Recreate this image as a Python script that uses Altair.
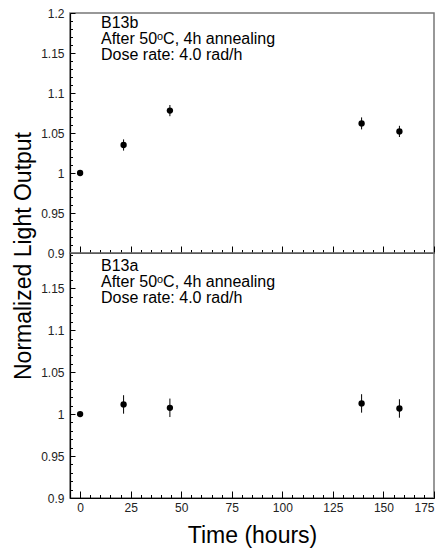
import altair as alt
import pandas as pd

# ---- data ----
hours = [0.0, 21.5, 44.4, 139.2, 157.9]
b13b_lo = [1.000, 1.035, 1.078, 1.062, 1.052]
b13b_err = [0.0, 0.007, 0.007, 0.0075, 0.007]
b13a_lo = [1.000, 1.0115, 1.0075, 1.0127, 1.0067]
b13a_err = [0.0, 0.011, 0.011, 0.011, 0.011]

label_top = "B13b\nAfter 50ᵒC, 4h annealing\nDose rate: 4.0 rad/h"
label_bot = "B13a\nAfter 50ᵒC, 4h annealing\nDose rate: 4.0 rad/h"

x_major = [0, 25, 50, 75, 100, 125, 150, 175]
x_minor = [v for v in range(0, 176, 5) if v % 25 != 0]
y_major_top = [0.9, 0.95, 1.0, 1.05, 1.1, 1.15, 1.2]
y_major_bot = [0.9, 0.95, 1.0, 1.05, 1.1, 1.15]
y_minor = [round(0.9 + 0.01 * i, 2) for i in range(31)]

FONT = "Liberation Sans"
W = 364


def panel(vals, errs, label, height, ydom, ymajor, bottom, text_y):
    df = pd.DataFrame({"t": hours, "v": vals,
                       "lo": [a - e for a, e in zip(vals, errs)],
                       "hi": [a + e for a, e in zip(vals, errs)]})
    xs = alt.Scale(domain=[-5, 175], nice=False, zero=False)
    ys = alt.Scale(domain=ydom, nice=False, zero=False)
    base = alt.Chart(df)

    # main axes: labels + black domain
    x_main = alt.Axis(orient="bottom", values=x_major, ticks=False, labels=bottom,
                      domain=True, domainColor="black", domainWidth=1.2, grid=False,
                      labelFont=FONT, labelFontSize=12, labelColor="#222", labelPadding=4,
                      title="Time (hours)" if bottom else None,
                      titleFont=FONT, titleFontSize=23, titleFontWeight="normal",
                      titleBaseline="alphabetic", titleY=44, titleColor="black")
    y_main_kw = dict(orient="left", values=ymajor, ticks=False, domain=True,
                     domainColor="black", domainWidth=1.2, grid=False, format="~g",
                     labelFont=FONT, labelFontSize=12, labelColor="#222", labelPadding=6)
    if not bottom:
        y_main_kw.update(title="Normalized Light Output", titleFont=FONT, titleFontSize=23,
                         titleFontWeight="normal", titleAngle=-90, titleBaseline="alphabetic",
                         titleAlign="center", titleX=-40, titleY=242.5, titleColor="black")
    else:
        y_main_kw.update(title=None)
    y_main = alt.Axis(**y_main_kw)

    points = base.mark_circle(size=40, color="black", opacity=1).encode(
        x=alt.X("t:Q", scale=xs, axis=x_main),
        y=alt.Y("v:Q", scale=ys, axis=y_main),
    )

    # major ticks pointing inward
    bars = base.mark_rule(color="black", strokeWidth=1).encode(
        x=alt.X("t:Q", scale=xs, axis=alt.Axis(orient="bottom", values=x_major, labels=False,
                                               domain=False, grid=False, tickSize=7, offset=-7,
                                               tickColor="black", tickWidth=1, title=None)),
        y=alt.Y("lo:Q", scale=ys, axis=alt.Axis(orient="left", values=ymajor, labels=False,
                                                domain=False, grid=False, tickSize=5, offset=-5,
                                                tickColor="black", tickWidth=1, title=None)),
        y2="hi:Q",
    )

    # minor ticks pointing inward
    minor = base.mark_point(opacity=0).encode(
        x=alt.X("t:Q", scale=xs, axis=alt.Axis(orient="bottom", values=x_minor, labels=False,
                                               domain=False, grid=False, tickSize=3.5, offset=-3.5,
                                               tickColor="black", tickWidth=1, title=None)),
        y=alt.Y("v:Q", scale=ys, axis=alt.Axis(orient="left", values=y_minor, labels=False,
                                               domain=False, grid=False, tickSize=2.5, offset=-2.5,
                                               tickColor="black", tickWidth=1, title=None)),
    )

    text = alt.Chart(pd.DataFrame({"s": [label]})).mark_text(
        align="left", baseline="alphabetic", lineBreak="\n", lineHeight=16,
        font=FONT, fontSize=16, color="black"
    ).encode(x=alt.value(31), y=alt.value(text_y), text="s:N")

    return alt.layer(minor, bars, points, text).resolve_axis(
        x="independent", y="independent"
    ).properties(width=W, height=height)


top = panel(b13b_lo, b13b_err, label_top, 240, [0.9, 1.2], y_major_top, False, 15)
bot = panel(b13a_lo, b13a_err, label_bot, 245, [0.9, 1.192], y_major_bot, True, 18)

chart = alt.vconcat(top, bot, spacing=0, bounds="flush").properties(
    padding={"left": 11, "top": 6, "right": 5, "bottom": 5},
    background="white",
).configure_view(stroke="#777", strokeWidth=1.5)

chart.save("out.html", embed_options={"renderer": "svg", "actions": False})
